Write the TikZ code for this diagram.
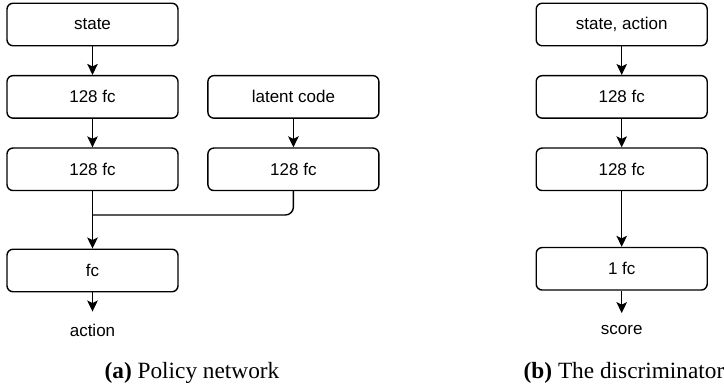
\documentclass[tikz,border=0pt]{standalone}
\usepackage{fontspec}
\usepackage{xcolor}
\usetikzlibrary{arrows.meta,positioning}
\setmainfont{Liberation Serif}
\newfontfamily\boxfont{Liberation Sans}
\definecolor{ink}{HTML}{000000}
\definecolor{paper}{HTML}{FFFFFF}
\tikzset{
  layerbox/.style={
    rounded corners=6pt,
    fill=paper,
    draw=ink,
    line width=1.4pt,
    inner sep=0pt,
    minimum width=171pt,
    minimum height=42.5pt,
    align=center,
    font=\boxfont\fontsize{17}{20}\selectfont,
    text=ink
  },
  outlabel/.style={
    inner xsep=0pt,
    inner ysep=12pt,
    font=\boxfont\fontsize{17}{20}\selectfont,
    text=ink
  },
  netarrow/.style={-{Stealth[length=11pt,width=10.5pt,inset=2.5pt]}, line width=1.4pt, draw=ink},
  netline/.style={line width=1.4pt, draw=ink, rounded corners=8pt},
  subcap/.style={font=\fontsize{23.3}{26}\selectfont, text=ink, inner sep=0pt}
}
\begin{document}
\begin{tikzpicture}[x=1pt,y=-1pt]
      \useasboundingbox (0,0) rectangle (724,387);
      % policy network
      \node[layerbox] (state) at (92.5,24.5) {state};
      \node[layerbox,below=28.5pt of state] (p1) {128 fc};
      \node[layerbox,below=28.5pt of p1] (p2) {128 fc};
      \node[layerbox,right=28.5pt of p1] (latent) {latent code};
      \node[layerbox,below=28.5pt of latent] (q1) {128 fc};
      \node[layerbox,below=57.3pt of p2] (pout) {fc};
      \node[outlabel] (action) at (92.5,330) {action};
      \coordinate (merge) at (92.5,215);
      \draw[netarrow] (state) -- (p1);
      \draw[netarrow] (p1) -- (p2);
      \draw[netarrow] (latent) -- (q1);
      \draw[netarrow] (p2) -- (pout);
      \draw[netline] (q1.south) |- (merge);
      \draw[netarrow] (pout) -- (action);
      \node[subcap] (capa) at (192,373) {\textbf{(a)} Policy network};
      % discriminator
      \node[layerbox] (sa) at (621.7,24.5) {state, action};
      \node[layerbox,below=28.5pt of sa] (d1) {128 fc};
      \node[layerbox,below=28.5pt of d1] (d2) {128 fc};
      \node[layerbox,below=55.6pt of d2] (dout) {1 fc};
      \node[outlabel] (score) at (621.7,330) {score};
      \draw[netarrow] (sa) -- (d1);
      \draw[netarrow] (d1) -- (d2);
      \draw[netarrow] (d2) -- (dout);
      \draw[netarrow] (dout) -- (score);
      \node[subcap] (capb) at (624,373) {\textbf{(b)} The discriminator};
    \end{tikzpicture}
\end{document}
